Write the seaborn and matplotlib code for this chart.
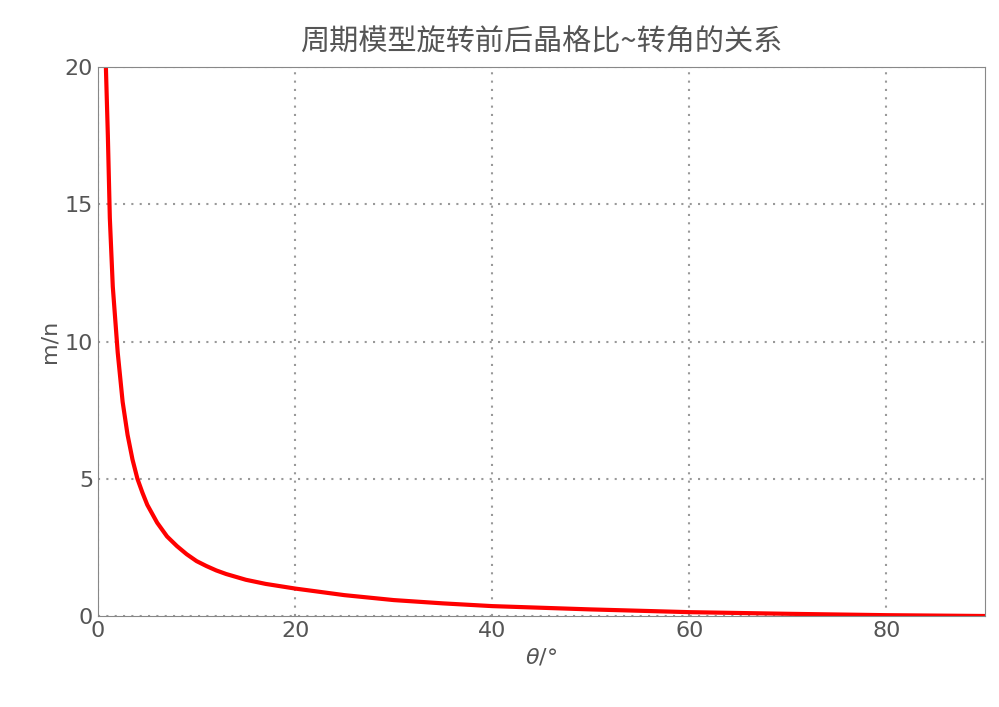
import matplotlib
matplotlib.use("Agg")
import matplotlib.pyplot as plt
import seaborn as sns
import pandas as pd
from matplotlib.ticker import MultipleLocator

# values
theta = [0.8, 1, 1.2, 1.5, 2, 2.5, 3, 3.5, 4, 4.5, 5, 6, 7, 8, 9, 10, 11, 12, 13, 15, 17, 20, 25, 30, 35, 40, 50, 60, 70, 80, 90]
ratio = [20, 17.5, 14.5, 12, 9.6, 7.8, 6.6, 5.7, 5.0, 4.5, 4.05, 3.4, 2.9, 2.55, 2.25, 2.0, 1.82, 1.66, 1.53, 1.32, 1.17, 1.0, 0.76, 0.58, 0.46, 0.36, 0.24, 0.14, 0.08, 0.03, 0]
xticks = [0, 20, 40, 60, 80]
yticks = [0, 5, 10, 15, 20]

sns.set_style("white")
plt.rcParams['font.family'] = ['Noto Sans CJK SC', 'DejaVu Sans']
grey = '#555555'

df = pd.DataFrame({'theta': theta, 'ratio': ratio})
fig = plt.figure(figsize=(9.99, 7.07), dpi=100)
ax = fig.add_axes([98/999, 1-616/707, (985-98)/999, (616-67)/707])
sns.lineplot(data=df, x='theta', y='ratio', color='red', linewidth=3, ax=ax)

ax.set_xlim(0, 90)
ax.set_ylim(0, 20)
ax.set_xticks(xticks)
ax.set_yticks(yticks)
ax.xaxis.set_minor_locator(MultipleLocator(5))
ax.yaxis.set_minor_locator(MultipleLocator(1))
ax.tick_params(which='both', direction='in', colors='#888888', labelcolor=grey, labelsize=16)
ax.tick_params(which='major', length=5)
ax.tick_params(which='minor', length=3)
for lab in ax.get_xticklabels() + ax.get_yticklabels():
    lab.set_family('DejaVu Sans')
ax.grid(True, which='major', linestyle=(0, (1, 3)), color='#999999', linewidth=1.5)
for s in ax.spines.values():
    s.set_color('#888888')
ax.set_xlabel(r'$\theta$/°', fontsize=16, color=grey, family='DejaVu Sans')
ax.set_ylabel('m/n', fontsize=16, color=grey, family='DejaVu Sans')
ax.set_title('周期模型旋转前后晶格比~转角的关系', fontsize=21, color=grey, pad=12)
fig.savefig('out.png', dpi=100)
